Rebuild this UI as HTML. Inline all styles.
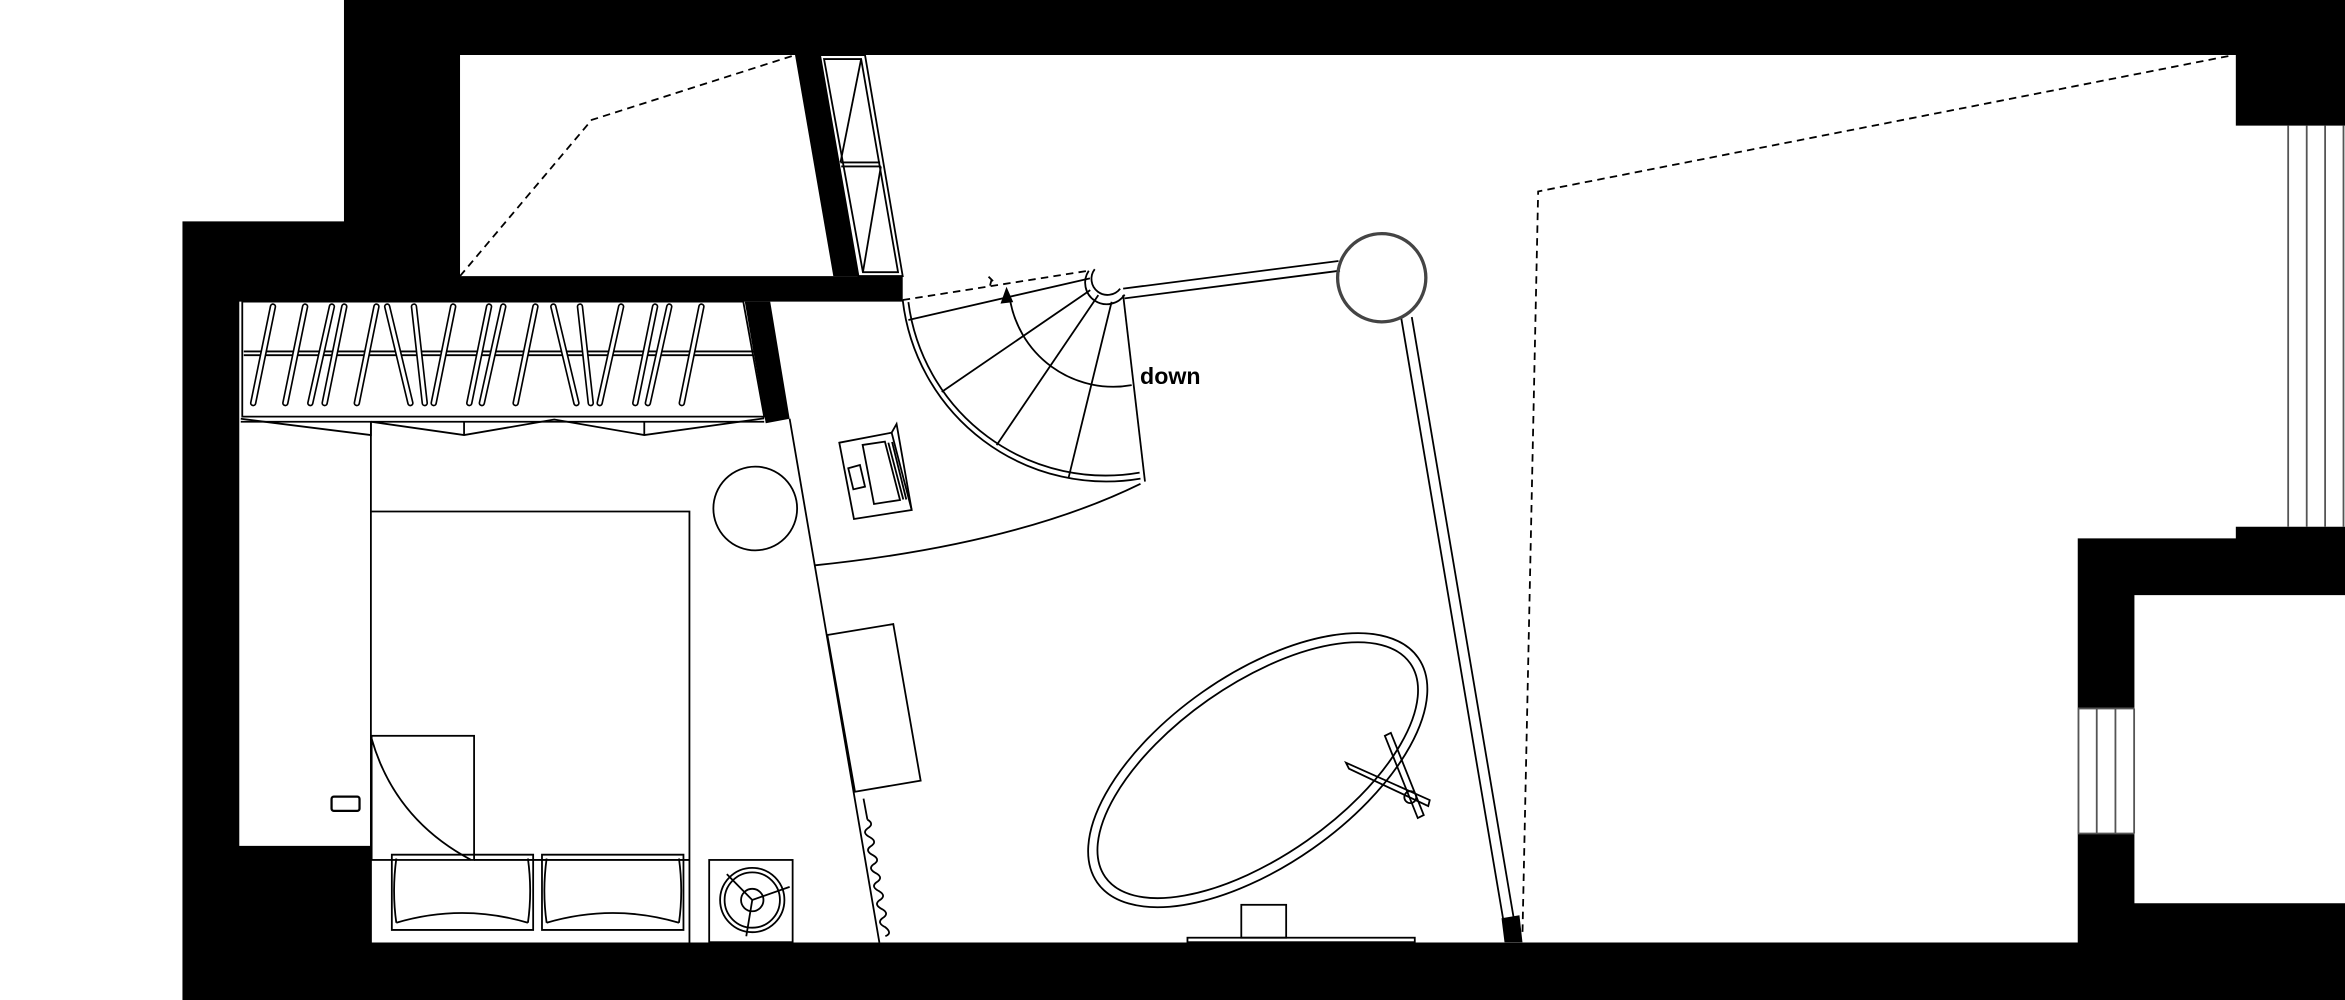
<!DOCTYPE html>
<html><head><meta charset="utf-8"><style>html,body{margin:0;padding:0;background:#fff}svg{display:block}</style></head>
<body>
<svg width="2345" height="1000" viewBox="0 0 1568 668.65" xmlns="http://www.w3.org/2000/svg">
<rect width="1568" height="669" fill="#fff"/>
<!-- walls -->
<g fill="#000">
<path d="M230,0 H1568 V84 H1495 V36.8 H307.6 V184.6 H603.6 V201.7 H160 V565.6 H248.5 V630.2 H1389.3 V360 H1495 V352.2 H1568 V397.9 H1427.2 V604 H1568 V669 H122 V148 H230 Z"/>
<polygon points="531.6,36.8 548.3,36.8 574,184.6 557.2,184.6"/>
<polygon points="498,201.7 515,201.7 528,280 512,283"/>
<polygon points="1004,614 1016,612 1018,630 1006,630"/>
</g>
<!-- window fills (cut openings) -->
<rect x="1389.3" y="473.7" width="37.9" height="83.6" fill="#fff"/>
<g stroke="#555" stroke-width="1.2" fill="none">
<line x1="1389.8" y1="473.7" x2="1389.8" y2="557.3"/><line x1="1402" y1="473.7" x2="1402" y2="557.3"/><line x1="1414.5" y1="473.7" x2="1414.5" y2="557.3"/><line x1="1427" y1="473.7" x2="1427" y2="557.3"/>
<line x1="1389.3" y1="473.7" x2="1427.2" y2="473.7"/><line x1="1389.3" y1="557.3" x2="1427.2" y2="557.3"/>
<line x1="1530" y1="84" x2="1530" y2="352.2"/><line x1="1542.4" y1="84" x2="1542.4" y2="352.2"/><line x1="1554.7" y1="84" x2="1554.7" y2="352.2"/><line x1="1567" y1="84" x2="1567" y2="352.2"/>
</g>
<g fill="none" stroke="#000" stroke-width="1.2">
<!-- bookshelf -->
<polygon points="548.3,36.8 578.4,36.8 603.6,184.6 574,184.6"/>
<polygon points="551,39.5 575.8,39.5 600.5,182 577,182"/>
<line x1="562" y1="108.6" x2="588.5" y2="108.6"/><line x1="562.5" y1="111.3" x2="589" y2="111.3"/>
<line x1="575.8" y1="39.5" x2="562" y2="108.6"/><line x1="551" y1="39.5" x2="562" y2="108.6" stroke-width="0"/>
<line x1="589" y1="111.3" x2="577" y2="182"/>
<!-- dashed lines -->
<polyline points="307.6,184.6 395.6,80.2 531.6,36.8" stroke-dasharray="5,3.5"/>
<polyline points="1490,37.5 1028.5,128 1018,625" stroke-dasharray="5,3.5"/>
<line x1="603.6" y1="200.6" x2="728" y2="181" stroke-dasharray="5,3.5"/>
<!-- room divider -->
<line x1="528" y1="280" x2="588" y2="630.2"/>
<!-- wardrobe -->
<polygon points="162,201.7 497,201.7 511,278.6 162,278.6"/>
<line x1="163" y1="235" x2="504" y2="235"/><line x1="163" y1="237.5" x2="504" y2="237.5"/>
<line x1="161" y1="282" x2="511" y2="282"/>
<polyline points="161,280 248,290.9 248,282"/>
<polyline points="248,282 310.3,290.9 370.6,280.5 430.8,290.9 511,279.7"/>
<line x1="310.3" y1="282" x2="310.3" y2="290.9"/><line x1="430.8" y1="282" x2="430.8" y2="290.9"/>
<line x1="248" y1="282" x2="248" y2="630.2"/>
</g>
<g stroke="#000" stroke-width="4.4" stroke-linecap="round">
<line x1="182.5" y1="205" x2="169.3" y2="269.5"/><line x1="204" y1="205" x2="190.8" y2="269.5"/><line x1="221.9" y1="205" x2="207.5" y2="269.5"/><line x1="230.2" y1="205" x2="217.1" y2="269.5"/><line x1="251.7" y1="205" x2="238.6" y2="269.5"/><line x1="258.9" y1="205" x2="274.4" y2="269.5"/><line x1="276.8" y1="205" x2="284" y2="269.5"/><line x1="303" y1="205" x2="290" y2="269.5"/><line x1="327" y1="205" x2="313.8" y2="269.5"/><line x1="336.5" y1="205" x2="322.2" y2="269.5"/><line x1="358" y1="205" x2="344.8" y2="269.5"/><line x1="370" y1="205" x2="385.4" y2="269.5"/><line x1="387.8" y1="205" x2="395" y2="269.5"/><line x1="415.3" y1="205" x2="401" y2="269.5"/><line x1="438" y1="205" x2="424.8" y2="269.5"/><line x1="447.5" y1="205" x2="433.2" y2="269.5"/><line x1="469" y1="205" x2="455.9" y2="269.5"/>
</g>
<g stroke="#fff" stroke-width="2.2" stroke-linecap="round">
<line x1="182.5" y1="205" x2="169.3" y2="269.5"/><line x1="204" y1="205" x2="190.8" y2="269.5"/><line x1="221.9" y1="205" x2="207.5" y2="269.5"/><line x1="230.2" y1="205" x2="217.1" y2="269.5"/><line x1="251.7" y1="205" x2="238.6" y2="269.5"/><line x1="258.9" y1="205" x2="274.4" y2="269.5"/><line x1="276.8" y1="205" x2="284" y2="269.5"/><line x1="303" y1="205" x2="290" y2="269.5"/><line x1="327" y1="205" x2="313.8" y2="269.5"/><line x1="336.5" y1="205" x2="322.2" y2="269.5"/><line x1="358" y1="205" x2="344.8" y2="269.5"/><line x1="370" y1="205" x2="385.4" y2="269.5"/><line x1="387.8" y1="205" x2="395" y2="269.5"/><line x1="415.3" y1="205" x2="401" y2="269.5"/><line x1="438" y1="205" x2="424.8" y2="269.5"/><line x1="447.5" y1="205" x2="433.2" y2="269.5"/><line x1="469" y1="205" x2="455.9" y2="269.5"/>
</g>
<g fill="none" stroke="#000" stroke-width="1.2">
<!-- bed -->
<polyline points="248,342 461,342 461,630.2"/>
<rect x="248.5" y="492" width="68.5" height="83"/>
<line x1="317" y1="575" x2="461" y2="575"/>
<path d="M248.5,494 Q264,548 315,575"/>
<path d="M262,571.5 H356.5 V621.8 H262 Z"/>
<path d="M265,617 Q309,604 353,617 M265,574 Q262,596 265,617 M353,574 Q356,596 353,617"/>
<path d="M362.4,571.5 H457 V621.8 H362.4 Z"/>
<path d="M365.5,617 Q410,604 454,617 M365.5,574 Q362.5,596 365.5,617 M454,574 Q457,596 454,617"/>
<rect x="221.7" y="532.7" width="18.7" height="9.5" rx="1.5" stroke-width="1.5"/>
<circle cx="505" cy="340" r="28"/>
<!-- box -->
<rect x="474.2" y="575" width="55.8" height="55"/>
<circle cx="503" cy="601.8" r="21.5"/><circle cx="503" cy="601.8" r="18.5"/><circle cx="503" cy="601.8" r="7.5"/>
<polyline points="486,584.5 503,601.8 528,593"/><line x1="503" y1="601.8" x2="499" y2="626"/>
<!-- radiator -->
<path d="M577.4,534 L580,548 M580,548 Q585,551 580,554 Q576,557 582,560 Q587,563 582,566 Q578,569 584,572 Q589,575 584,578 Q580,581 586,584 Q591,587 586,590 Q582,593 588,596 Q593,599 588,602 Q584,605 590,608 Q595,611 590,614 Q586,617 592,620 Q597,624 592,626"/>
<!-- desk -->
<polygon points="553.2,424.6 597.3,417.3 615.6,522 571.7,529.4"/>
<!-- device -->
<polygon points="561.2,296 596.2,289.3 609.6,341 571,347"/>
<polyline points="596.2,289.3 599.5,283.5 609.6,341"/>
<rect x="0" y="0" width="0" height="0"/>
<polygon points="576.8,297.5 591.7,295.3 601.8,334.3 584.4,337"/>
<polygon points="567.2,313.1 575,310.9 578.4,325.4 570.6,327.2"/>
<line x1="594" y1="296" x2="604" y2="334"/><line x1="596.5" y1="295.5" x2="606" y2="334"/>
<!-- stair -->
<path d="M603.6,200.6 A137,137 0 0 0 762.6,320"/>
<path d="M607.4,202 A133,133 0 0 0 762,316"/>
<path d="M762.6,323.5 Q680,364 545,378"/>
<line x1="607.4" y1="214" x2="728.8" y2="186.1"/>
<line x1="729" y1="194" x2="629.7" y2="262"/>
<line x1="734.4" y1="197.3" x2="666.4" y2="297.6"/>
<line x1="743.3" y1="201.8" x2="714.4" y2="319.9"/>
<line x1="751" y1="197.3" x2="765.6" y2="322"/>
<path d="M675,198 A70,70 0 0 0 756.7,257.5"/>
<path d="M661,185 l3,3 M663,187 l-1,4"/>
<!-- pillar -->
<path d="M728,181 A12,12 0 0 0 752,197"/>
<path d="M732,180 A9,9 0 0 0 749,193"/>
<!-- railing -->
<line x1="751" y1="193" x2="895" y2="174.5"/><line x1="752" y1="199.5" x2="896" y2="181"/>
<line x1="937" y1="213" x2="1005" y2="614"/><line x1="944" y1="212" x2="1012" y2="613"/>
<!-- table -->
<ellipse cx="841" cy="515" rx="131" ry="64" transform="rotate(-35 841 515)"/>
<ellipse cx="841" cy="515" rx="124.5" ry="57.5" transform="rotate(-35 841 515)"/>
<circle cx="943" cy="533" r="4"/>
<polygon points="926,492 930,490 952,545 948,547"/>
<polygon points="900,510 902,514 955,539 956,535"/>
<rect x="830" y="605" width="30" height="22"/>
<rect x="794" y="627" width="152" height="3"/>
</g>
<circle cx="923.9" cy="185.7" r="29.5" fill="none" stroke="#444" stroke-width="2.2"/>
<polygon points="673,191.7 669,203 677.5,202" fill="#000"/>
<text x="762.3" y="256.6" font-family="Liberation Sans, sans-serif" font-weight="bold" font-size="15.5" fill="#000">down</text>
</svg>
</body></html>
